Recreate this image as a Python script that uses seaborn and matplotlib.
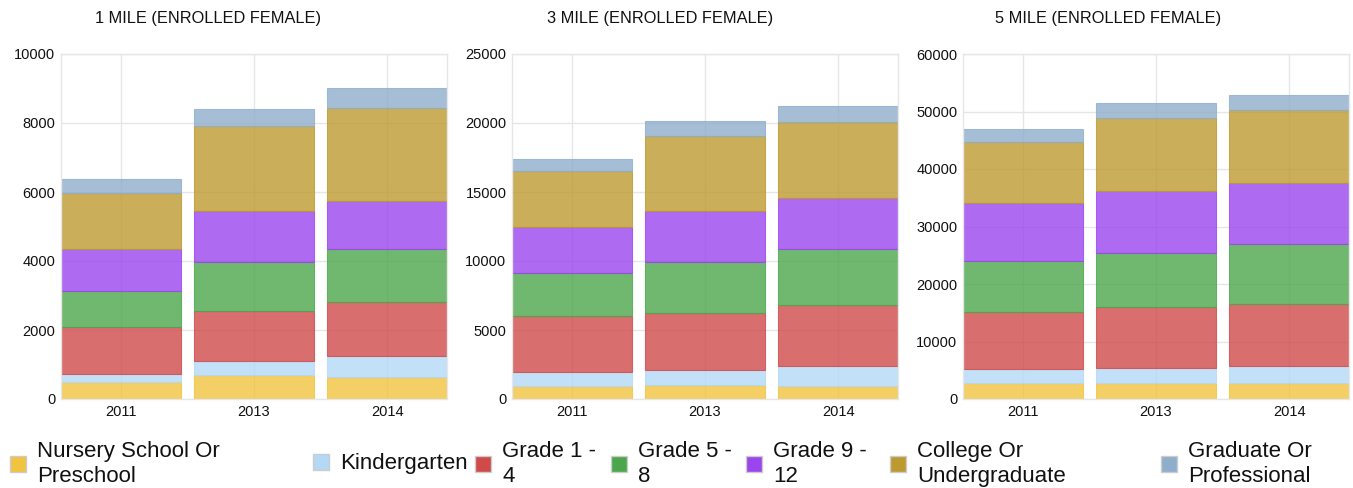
import numpy as np
import matplotlib
matplotlib.use("Agg")
import matplotlib.pyplot as plt
from matplotlib.patches import Patch
import seaborn as sns

years = ["2011", "2013", "2014"]
levels = ["Nursery School Or\nPreschool", "Kindergarten", "Grade 1 -\n4", "Grade 5 -\n8",
          "Grade 9 -\n12", "College Or\nUndergraduate", "Graduate Or\nProfessional"]
colors = ["#F0C43F", "#B3D9F7", "#D04A4A", "#4CA64C", "#9B45EF", "#BD9A30", "#8FAECB"]

# enrolled female counts by level (rows) and year (columns)
mile1 = [
    [480, 685, 625],
    [235, 425, 630],
    [1385, 1440, 1545],
    [1020, 1430, 1555],
    [1225, 1455, 1370],
    [1640, 2490, 2710],
    [385, 490, 570],
]
mile3 = [
    [920, 990, 920],
    [1015, 1135, 1475],
    [4110, 4110, 4425],
    [3095, 3725, 4060],
    [3310, 3650, 3675],
    [4040, 5440, 5535],
    [870, 1090, 1110],
]
mile5 = [
    [2785, 2785, 2730],
    [2495, 2670, 3015],
    [9865, 10560, 10735],
    [8880, 9400, 10445],
    [10095, 10735, 10675],
    [10505, 12710, 12650],
    [2320, 2670, 2610],
]

titles = ["1 MILE (ENROLLED FEMALE)", "3 MILE (ENROLLED FEMALE)", "5 MILE (ENROLLED FEMALE)"]
ymax = [10000, 25000, 60000]
ystep = [2000, 5000, 10000]

sns.set_theme(style="whitegrid")
plt.rcParams["font.family"] = ["Liberation Sans", "DejaVu Sans"]

W, H = 1353, 488
fig = plt.figure(figsize=(W / 100, H / 100), dpi=100)

lefts = [61, 512, 963]
title_x = [208, 660, 1108]
for i, data in enumerate([mile1, mile3, mile5]):
    ax = fig.add_axes([lefts[i] / W, (H - 399) / H, 386 / W, 345 / H])
    bottom = np.zeros(len(years))
    for j, vals in enumerate(data):
        sns.barplot(x=years, y=vals, bottom=bottom, color=colors[j], alpha=0.8,
                    width=0.9, linewidth=0.8, edgecolor=colors[j], saturation=1,
                    ax=ax, zorder=2)
        bottom = bottom + np.array(vals)
    ax.set_ylim(0, ymax[i])
    ax.set_yticks(np.arange(0, ymax[i] + 1, ystep[i]))
    ax.set_xlim(-0.45, 2.45)
    ax.grid(True, color="#e6e6e6", linewidth=1, zorder=0)
    ax.set_axisbelow(True)
    for s in ax.spines.values():
        s.set_color("#e6e6e6")
        s.set_linewidth(1)
    ax.tick_params(axis="both", labelsize=10.5, colors="#111111", length=0, pad=4)
    ax.set_xlabel("")
    ax.set_ylabel("")
    fig.text(title_x[i] / W, 1 - 19 / H, titles[i], ha="center", va="center",
             fontsize=11.8, color="#111111")

# legend items laid out like the original wrapping row
leg_x = [10, 313, 475, 611, 746, 890, 1161]
for j, lab in enumerate(levels):
    h = Patch(facecolor=colors[j], edgecolor="#cccccc", linewidth=1)
    fig.legend(handles=[h], labels=[lab], loc="center left",
               bbox_to_anchor=(leg_x[j] / W, 1 - 464 / H), frameon=False,
               fontsize=16, handlelength=0.72, handleheight=0.72,
               handletextpad=0.5, borderpad=0, borderaxespad=0,
               labelspacing=0, labelcolor="#111111")
    for t in fig.legends[-1].get_texts():
        t.set_linespacing(1.2)

fig.savefig("out.png", dpi=100)
